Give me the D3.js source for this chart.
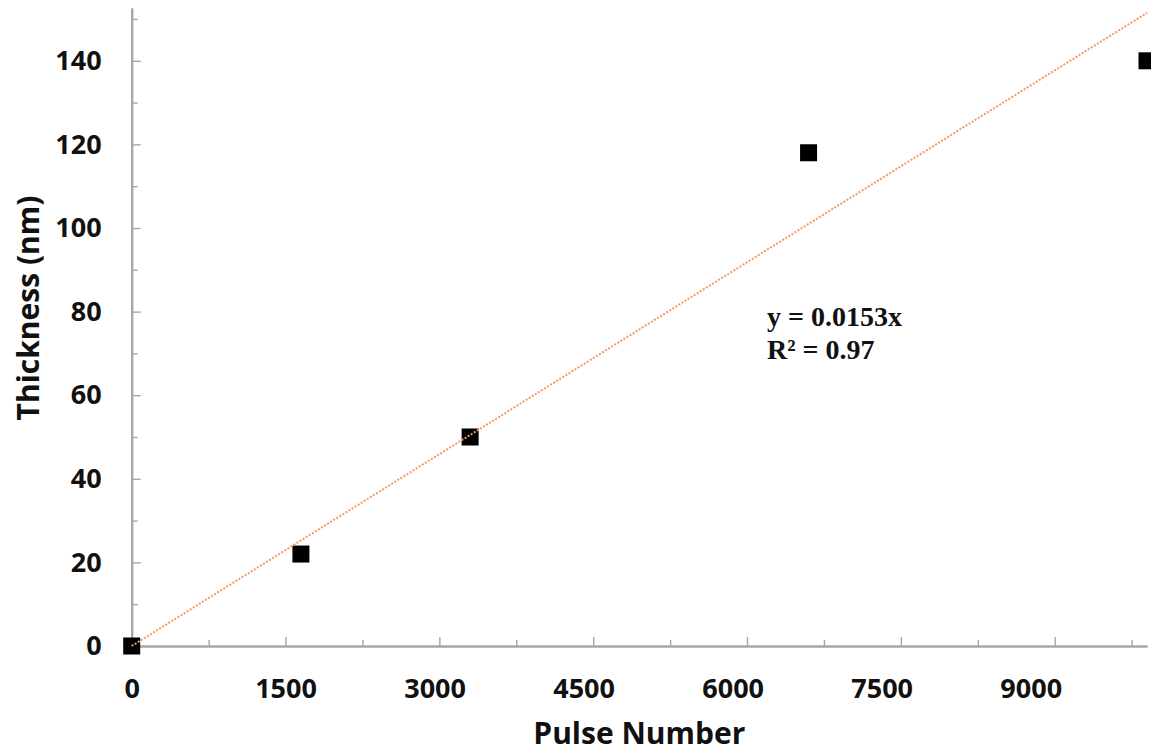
<!DOCTYPE html>
<html>
  <head>
    <meta charset="utf-8" />
    <title>Thickness vs Pulse Number</title>
    <style>
      body {
        margin: 0;
        background: #fff;
      }
      .tick text {
        font-family: "Open Sans", sans-serif;
        font-weight: 700;
        font-size: 27px;
        fill: #111;
      }
      .axis-title {
        font-family: "Open Sans", sans-serif;
        font-weight: 700;
        font-size: 30px;
        fill: #111;
      }
      .fit-label {
        font-family: "Liberation Serif", "Times New Roman", serif;
        font-weight: 700;
        font-size: 28px;
        fill: #111;
      }
      .trend {
        fill: none;
        stroke: #f29a63;
        stroke-width: 2px;
        stroke-dasharray: 2 1.6;
      }
    </style>
  </head>
  <body>
    <svg id="chart"></svg>

    <script src="https://d3js.org/d3.v7.min.js"></script>
    <script>
      // data
      const pulses = [0, 1650, 3300, 6600, 9900];
      const thickness = [0, 22, 50, 118, 140];
      const slope = 0.0153;
      const fitLines = ["y = 0.0153x", "R\u00b2 = 0.97"];

      const xMajorTicks = [0, 1500, 3000, 4500, 6000, 7500, 9000];
      const xMinorTicks = [750, 2250, 3750, 5250, 6750, 8250, 9750];
      const yMajorTicks = [0, 20, 40, 60, 80, 100, 120, 140];
      const yMinorTicks = [10, 30, 50, 70, 90, 110, 130, 150];

      const width = 1151;
      const height = 755;
      const x0 = 131.7, x1 = 1147;
      const y0 = 646, y1 = 8;

      const svg = d3
        .select("#chart")
        .attr("width", width)
        .attr("height", height);

      const xScale = d3.scaleLinear().domain([0, 9900]).range([x0, x1]);
      const yScale = d3
        .scaleLinear()
        .domain([0, (y0 - y1) / 4.18])
        .range([y0, y1]);

      // minor ticks first so the major ones sit on top
      svg
        .append("g")
        .attr("class", "x-minor")
        .attr("transform", `translate(0,${y0})`)
        .call(
          d3.axisBottom(xScale).tickValues(xMinorTicks).tickSizeInner(-6).tickSizeOuter(0).tickFormat("")
        );
      svg
        .append("g")
        .attr("class", "y-minor")
        .attr("transform", `translate(${x0},0)`)
        .call(
          d3.axisLeft(yScale).tickValues(yMinorTicks).tickSizeInner(-6).tickSizeOuter(0).tickFormat("")
        );

      const xAxis = svg
        .append("g")
        .attr("class", "x-axis")
        .attr("transform", `translate(0,${y0})`)
        .call(
          d3
            .axisBottom(xScale)
            .tickValues(xMajorTicks)
            .tickSizeInner(-9)
            .tickSizeOuter(0)
            .tickPadding(33)
            .tickFormat(d3.format("d"))
        );

      const yAxis = svg
        .append("g")
        .attr("class", "y-axis")
        .attr("transform", `translate(${x0},0)`)
        .call(
          d3
            .axisLeft(yScale)
            .tickValues(yMajorTicks)
            .tickSizeInner(-9)
            .tickSizeOuter(0)
            .tickPadding(30)
        );

      svg.selectAll(".domain").attr("stroke", "#a6a6a6").attr("stroke-width", 2);
      svg.selectAll(".tick line").attr("stroke", "#a6a6a6").attr("stroke-width", 1.4);
      // in the original the labels drift slightly left of their ticks
      xAxis.selectAll(".tick text").attr("dx", (d) => (d === 0 ? 0 : -(d - 1500) / 7500 * 24));

      // markers
      const size = 17;
      svg
        .append("g")
        .selectAll("rect")
        .data(pulses.map((p, i) => ({ x: p, y: thickness[i] })))
        .join("rect")
        .attr("x", (d) => xScale(d.x) - size / 2)
        .attr("y", (d) => yScale(d.y) - size / 2)
        .attr("width", size)
        .attr("height", size)
        .attr("fill", "#000");

      // linear fit through origin
      const trendX = [0, d3.max(pulses)];
      svg
        .append("path")
        .datum(trendX)
        .attr("class", "trend")
        .attr(
          "d",
          d3
            .line()
            .x((d) => xScale(d))
            .y((d) => yScale(d * slope))
        );

      svg
        .append("text")
        .attr("class", "fit-label")
        .selectAll("tspan")
        .data(fitLines)
        .join("tspan")
        .attr("x", 767)
        .attr("y", (d, i) => 326 + i * 33)
        .text((d) => d);

      svg
        .append("text")
        .attr("class", "axis-title")
        .attr("x", (x0 + x1) / 2)
        .attr("y", 744)
        .attr("text-anchor", "middle")
        .text("Pulse Number");

      svg
        .append("text")
        .attr("class", "axis-title")
        .attr("transform", `translate(39,308) rotate(-90)`)
        .attr("text-anchor", "middle")
        .text("Thickness (nm)");
    </script>
  </body>
</html>
